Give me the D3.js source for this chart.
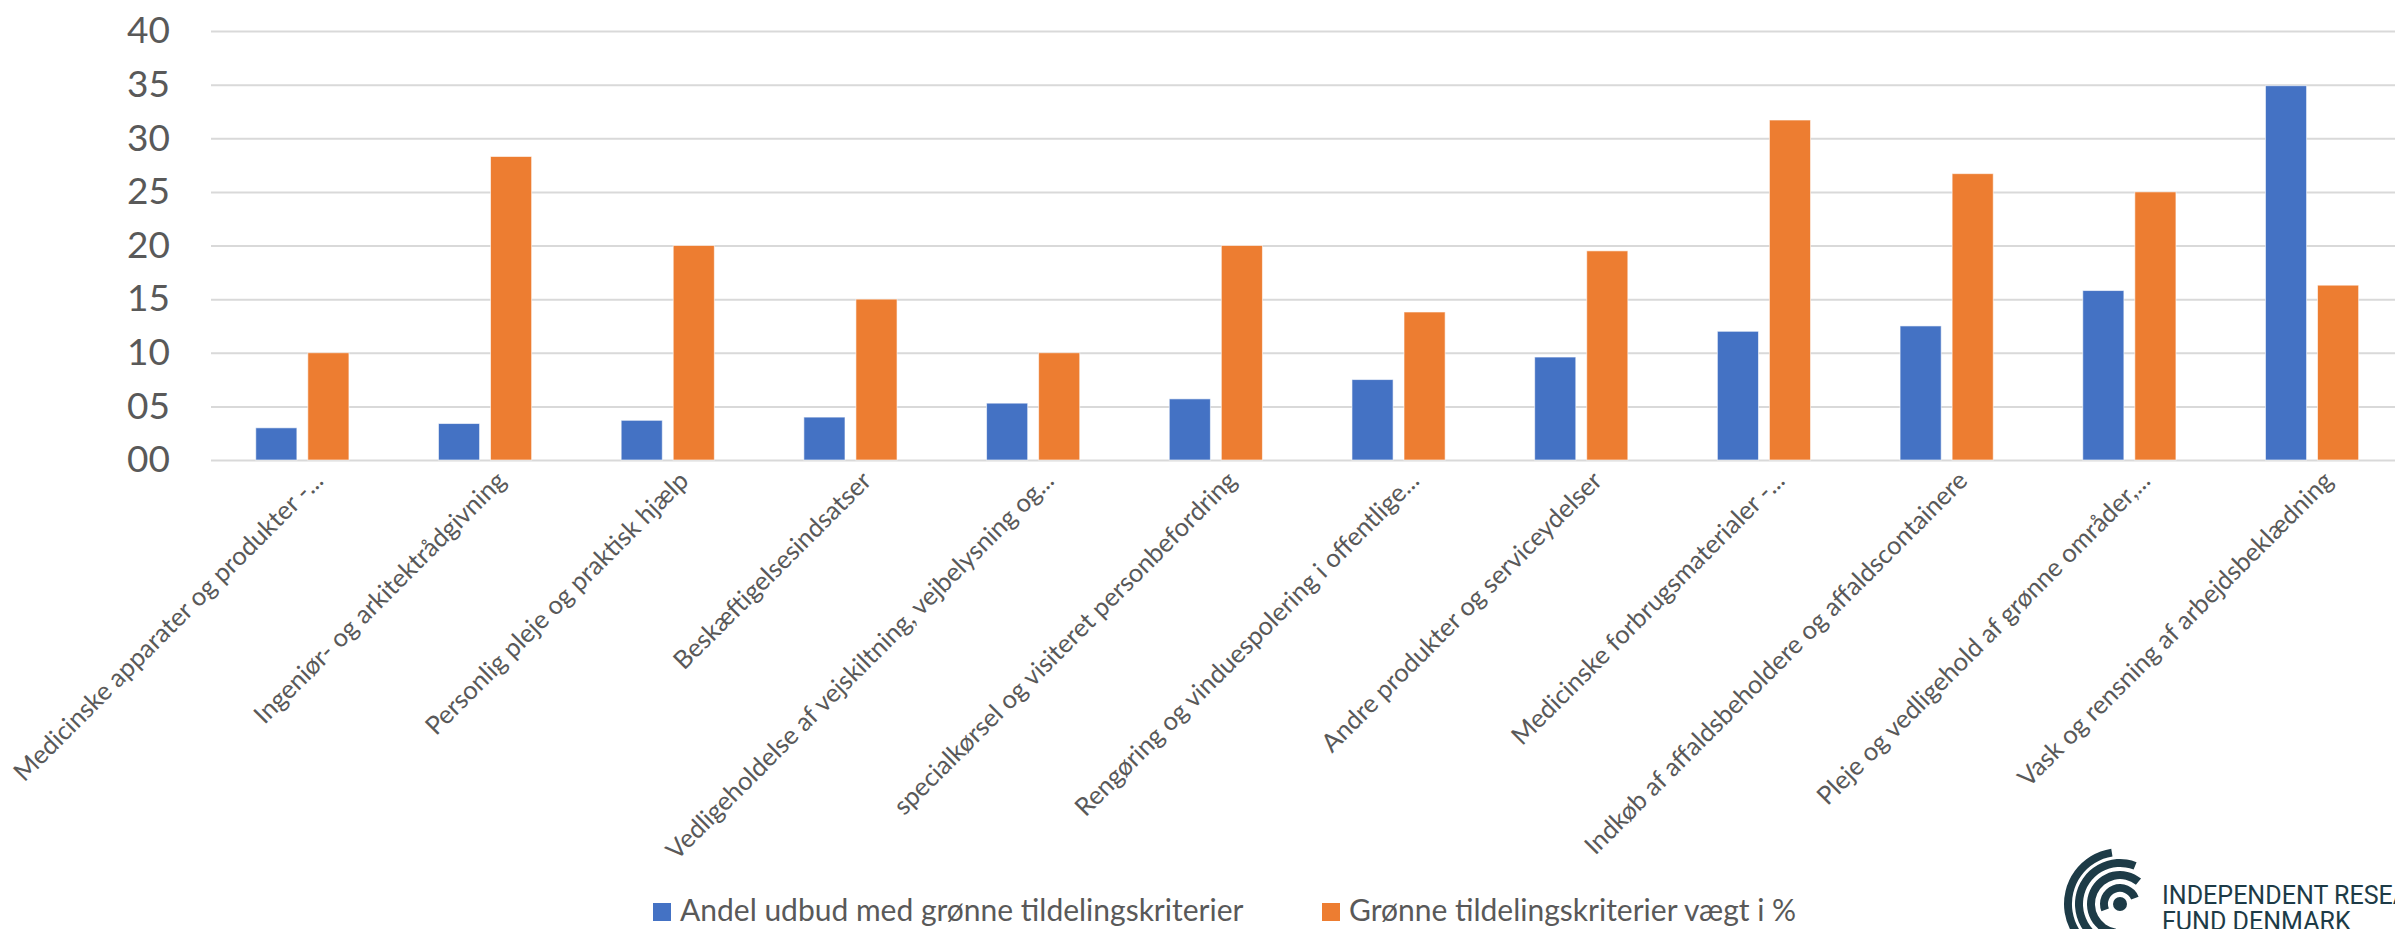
<!DOCTYPE html>
<html>
<head>
<meta charset="utf-8">
<script src="https://cdn.jsdelivr.net/npm/d3@7"></script>
<style>
    body { margin: 0; background: #fff; }
    text { font-family: Lato, "Open Sans", sans-serif; fill: #595959; }
</style>
</head>
<body>
<div class="chart1"></div>
<script>
// categories and series values
var categories = [
    "Medicinske apparater og produkter -...",
    "Ingeniør- og arkitektrådgivning",
    "Personlig pleje og praktisk hjælp",
    "Beskæftigelsesindsatser",
    "Vedligeholdelse af vejskiltning, vejbelysning og...",
    "specialkørsel og visiteret personbefordring",
    "Rengøring og vinduespolering i offentlige...",
    "Andre produkter og serviceydelser",
    "Medicinske forbrugsmaterialer -...",
    "Indkøb af affaldsbeholdere og affaldscontainere",
    "Pleje og vedligehold af grønne områder,...",
    "Vask og rensning af arbejdsbeklædning"
];
var seriesNames = ["Andel udbud med grønne tildelingskriterier", "Grønne tildelingskriterier vægt i %"];
var andelUdbud = [3.0, 3.4, 3.7, 4.0, 5.3, 5.7, 7.5, 9.6, 12.0, 12.5, 15.8, 34.9];
var vaegt = [10.0, 28.3, 20.0, 15.0, 10.0, 20.0, 13.8, 19.5, 31.7, 26.7, 25.0, 16.3];
var yTicks = [0, 5, 10, 15, 20, 25, 30, 35, 40];

var colors = ["#4472C4", "#ED7D31"];

var W = 2395, H = 929;
var plotLeft = 211, plotTop = 31, plotBottom = 460;
var step = 182.7;

var svg = d3.select(".chart1").append("svg")
    .attr("width", W)
    .attr("height", H);

var x0 = d3.scaleBand()
    .domain(categories)
    .range([plotLeft, plotLeft + step * categories.length])
    .padding(0);

var x1 = d3.scaleBand()
    .domain(seriesNames)
    .range([0, x0.bandwidth()])
    .paddingInner(0.21)
    .paddingOuter(0.86);

var y = d3.scaleLinear()
    .domain([0, 40])
    .range([plotBottom, plotTop]);

// gridlines
svg.append("g")
    .attr("class", "grid")
    .attr("transform", "translate(" + plotLeft + ",0)")
    .call(d3.axisLeft(y)
        .tickValues(yTicks)
        .tickSize(-(W - plotLeft))
        .tickFormat("")
    )
    .call(function (g) {
        g.select(".domain").remove();
        g.selectAll("line").attr("stroke", "#d9d9d9").attr("stroke-width", 2);
    });

// y labels
svg.append("g")
    .attr("transform", "translate(170,0)")
    .call(d3.axisLeft(y)
        .tickValues(yTicks)
        .tickSize(0)
        .tickPadding(0)
        .tickFormat(d3.format("02d"))
    )
    .call(function (g) {
        g.select(".domain").remove();
        g.selectAll("text")
            .style("font-size", "37px")
            .attr("fill", "#595959");
    });

// bars
var data = categories.map(function (c, i) {
    return { cat: c, values: [andelUdbud[i], vaegt[i]] };
});

var groups = svg.selectAll(".group")
    .data(data)
    .enter().append("g")
    .attr("class", "group")
    .attr("transform", function (d) {
        return "translate(" + x0(d.cat) + ",0)";
    });

groups.selectAll("rect")
    .data(function (d) {
        return d.values.map(function (v, j) { return { key: seriesNames[j], value: v, j: j }; });
    })
    .enter().append("rect")
    .attr("x", function (d) { return x1(d.key); })
    .attr("width", x1.bandwidth())
    .attr("y", function (d) { return y(d.value); })
    .attr("height", function (d) { return plotBottom - y(d.value); })
    .attr("fill", function (d) { return colors[d.j]; })
    .attr("stroke", "#ffffff")
    .attr("stroke-opacity", 0.6)
    .attr("stroke-width", 1);

// category labels, rotated
svg.append("g")
    .selectAll("text")
    .data(categories)
    .enter().append("text")
    .attr("transform", function (d) {
        return "translate(" + (x0(d) + x0.bandwidth() / 2 + 16) + ",476) rotate(-45)";
    })
    .attr("text-anchor", "end")
    .attr("dy", "0.35em")
    .style("font-size", "25.5px")
    .text(function (d) { return d; });

// legend
var legendX = [653, 1322];
var legend = svg.append("g");
seriesNames.forEach(function (name, i) {
    legend.append("rect")
        .attr("x", legendX[i])
        .attr("y", 903)
        .attr("width", 18)
        .attr("height", 18)
        .attr("fill", colors[i]);
    legend.append("text")
        .attr("x", legendX[i] + 27)
        .attr("y", 921)
        .style("font-size", "30px")
        .text(name);
});

// logo in the corner
var logo = svg.append("g").attr("transform", "translate(2120,904)");
var arc = d3.arc();
var rings = [
    { r: 16, a0: 0.38, a1: -0.62 },
    { r: 29, a0: 0.22, a1: -0.95 },
    { r: 41, a0: 0.12, a1: -1.02 },
    { r: 52, a0: -0.05, a1: -1.05 }
];
rings.forEach(function (ring) {
    logo.append("path")
        .attr("d", arc({
            innerRadius: ring.r - 4,
            outerRadius: ring.r + 4,
            startAngle: Math.PI * ring.a0,
            endAngle: Math.PI * ring.a1
        }))
        .attr("fill", "#1d3b47");
});
logo.append("circle").attr("r", 7).attr("fill", "#1d3b47");

var t1 = svg.append("text")
    .attr("x", 2162)
    .attr("y", 904)
    .style("font-family", "Roboto, sans-serif")
    .style("font-size", "25px")
    .style("fill", "#1d3b47")
    .text("INDEPENDENT RESEARCH");
var t2 = svg.append("text")
    .attr("x", 2162)
    .attr("y", 930)
    .style("font-family", "Roboto, sans-serif")
    .style("font-size", "25px")
    .style("fill", "#1d3b47")
    .text("FUND DENMARK");
// squeeze the logo text to the width seen in the picture
var sub = t1.node().getSubStringLength(0, 16);
var k = 231 / sub;
t1.attr("transform", "translate(2162,0) scale(" + k + ",1) translate(-2162,0)");
t2.attr("transform", "translate(2162,0) scale(" + k + ",1) translate(-2162,0)");
</script>
</body>
</html>
